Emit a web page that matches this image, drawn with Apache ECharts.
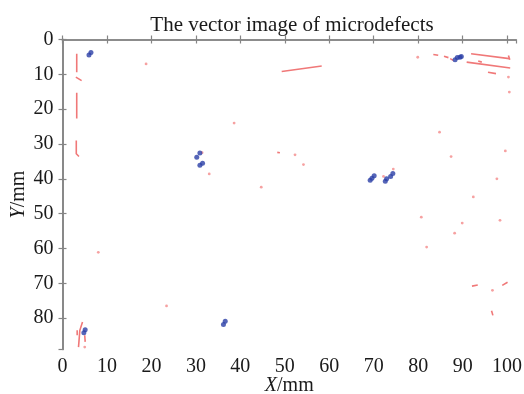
<!DOCTYPE html>
<html>
<head>
<meta charset="utf-8">
<script src="https://cdn.jsdelivr.net/npm/echarts@6/dist/echarts.min.js"></script>
<style>
html,body{margin:0;padding:0;background:#fff;}
#chart{width:524px;height:394px;}
</style>
</head>
<body>
<div id="chart"></div>
<script>
// Axis settings (tick labels)
const xTicks = [0, 10, 20, 30, 40, 50, 60, 70, 80, 90, 100];
const yTicks = [0, 10, 20, 30, 40, 50, 60, 70, 80];
const xRange = [0, 102];
const yRange = [0, 89];

// Red defect line segments (each a polyline of [x, y] in mm)
const redSegments = [
  [[3.2, 4.1], [3.2, 9.4]],
  [[3.0, 10.8], [4.3, 11.8]],
  [[3.2, 15.3], [3.2, 22.7]],
  [[3.1, 29.0], [3.1, 32.8], [3.7, 33.6]],
  [[49.3, 9.2], [58.3, 7.6]],
  [[83.4, 4.3], [84.5, 4.5]],
  [[85.8, 4.8], [86.8, 5.2]],
  [[87.2, 5.5], [87.9, 6.0]],
  [[91.9, 4.1], [100.5, 5.5]],
  [[100.3, 4.6], [100.6, 5.8]],
  [[90.9, 6.5], [100.7, 8.2]],
  [[93.5, 6.2], [94.3, 6.5]],
  [[95.7, 9.4], [97.5, 9.8]],
  [[48.3, 32.4], [48.9, 32.5]],
  [[4.5, 81.1], [3.9, 83.5], [3.6, 88.3]],
  [[3.3, 83.5], [3.3, 84.9]],
  [[5.0, 84.9], [5.1, 86.8]],
  [[92.1, 70.8], [93.4, 70.5]],
  [[98.9, 70.6], [100.1, 69.7]],
  [[96.5, 77.9], [96.8, 79.2]]
];

// Red isolated defect points
const redDots = [
  [18.8, 7.0], [38.6, 24.0], [79.9, 5.1], [100.3, 10.8], [100.5, 15.1],
  [84.8, 26.6], [99.6, 32.0], [33.0, 38.6], [44.7, 42.4], [8.05, 61.1],
  [52.3, 33.1], [54.2, 35.9], [72.2, 39.3], [74.4, 37.2], [87.4, 33.6],
  [97.7, 40.0], [92.4, 45.2], [80.7, 51.0], [98.4, 51.9], [89.9, 52.7],
  [88.2, 55.6], [81.9, 59.6], [23.4, 76.5], [96.7, 72.0], [5.0, 88.3],
  [31.4, 32.5]
];

// Blue vector points
const blueDots = [
  [5.96, 4.45], [6.4, 3.7],
  [88.3, 5.8], [88.8, 5.2], [89.4, 5.1], [89.7, 4.9],
  [30.2, 33.8], [30.9, 32.6],
  [30.9, 36.1], [31.5, 35.5],
  [69.2, 40.4], [69.6, 39.8], [70.1, 39.1],
  [72.6, 40.7], [72.9, 40.0],
  [73.8, 39.3], [74.3, 38.5],
  [36.2, 81.8], [36.6, 80.9],
  [5.1, 83.3], [4.8, 84.2]
];

const FONT = 'Liberation Serif';
const AXIS_COLOR = '#858585';
const TEXT_COLOR = '#1a1a1a';

function tickFmt(ticks) {
  return function (v) { return ticks.indexOf(v) >= 0 ? String(v) : ''; };
}

const axisLineStyle = { show: true, lineStyle: { color: AXIS_COLOR, width: 1.6 } };
const axisTickStyle = { show: true, inside: true, length: 4, lineStyle: { color: AXIS_COLOR, width: 1.2 } };

const chart = echarts.init(document.getElementById('chart'), null, { renderer: 'canvas' });
chart.setOption({
  animation: false,
  backgroundColor: '#ffffff',
  title: {
    text: 'The vector image of microdefects',
    left: 287,
    textAlign: 'center',
    top: 10,
    textStyle: { fontFamily: FONT, fontSize: 21, fontWeight: 'normal', color: TEXT_COLOR }
  },
  grid: { left: 62.5, right: 8, top: 39.5, bottom: 44.5, containLabel: false, outerBoundsMode: 'none' },
  xAxis: [
    {
      type: 'value', position: 'bottom', min: xRange[0], max: xRange[1], interval: 10,
      axisLine: axisLineStyle, axisTick: axisTickStyle, splitLine: { show: false },
      axisLabel: { fontFamily: FONT, fontSize: 20, color: TEXT_COLOR, margin: 7, showMaxLabel: false, formatter: tickFmt(xTicks) },
      name: '{i|X}/mm', nameLocation: 'middle', nameGap: 26, nameMoveOverlap: false,
      nameTextStyle: { fontFamily: FONT, fontSize: 20, color: TEXT_COLOR,
        rich: { i: { fontFamily: FONT, fontSize: 20, fontStyle: 'italic', color: TEXT_COLOR } } }
    },
    {
      type: 'value', position: 'top', min: xRange[0], max: xRange[1], interval: 10,
      axisLine: axisLineStyle, axisTick: axisTickStyle, splitLine: { show: false },
      axisLabel: { show: false }
    }
  ],
  yAxis: [
    {
      type: 'value', position: 'left', inverse: true, min: yRange[0], max: yRange[1], interval: 10,
      axisLine: axisLineStyle, axisTick: axisTickStyle, splitLine: { show: false },
      axisLabel: { fontFamily: FONT, fontSize: 20, color: TEXT_COLOR, margin: 9, showMaxLabel: false, formatter: tickFmt(yTicks) },
      name: '{i|Y}/mm', nameLocation: 'middle', nameGap: 34, nameMoveOverlap: false,
      nameTextStyle: { fontFamily: FONT, fontSize: 20, color: TEXT_COLOR,
        rich: { i: { fontFamily: FONT, fontSize: 20, fontStyle: 'italic', color: TEXT_COLOR } } }
    },
    {
      type: 'value', position: 'right', inverse: true, min: yRange[0], max: yRange[1], interval: 10,
      axisLine: axisLineStyle, axisTick: axisTickStyle, splitLine: { show: false },
      axisLabel: { show: false }
    }
  ],
  series: [
    {
      type: 'lines', coordinateSystem: 'cartesian2d', xAxisIndex: 0, yAxisIndex: 0,
      polyline: true, silent: true,
      lineStyle: { color: '#f07878', width: 1.6, opacity: 1 },
      data: redSegments.map(function (c) { return { coords: c }; })
    },
    {
      type: 'scatter', xAxisIndex: 0, yAxisIndex: 0, symbol: 'circle', symbolSize: 2.8,
      itemStyle: { color: '#f48a8a' }, data: redDots
    },
    {
      type: 'scatter', xAxisIndex: 0, yAxisIndex: 0, symbol: 'circle', symbolSize: 5,
      itemStyle: { color: '#2b3fa6' }, data: blueDots
    }
  ]
});
</script>
</body>
</html>
